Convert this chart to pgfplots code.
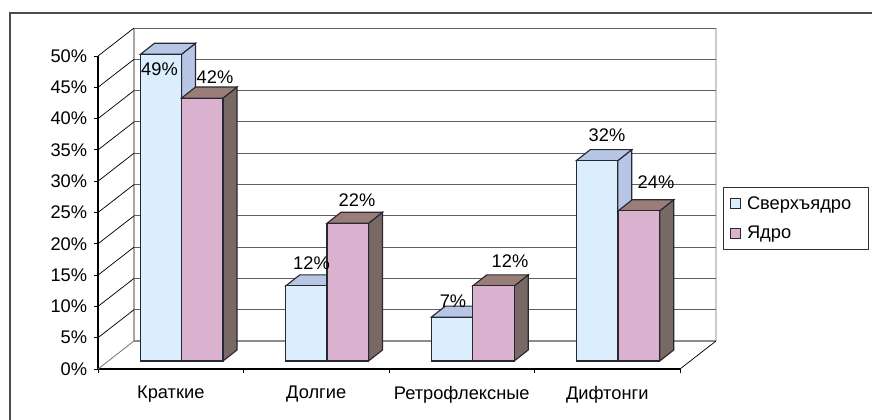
\documentclass[border=0pt]{standalone}
\usepackage{pgfplots}
\pgfplotsset{compat=1.18}
\usepackage{fontspec}
\setmainfont{Liberation Sans}
\definecolor{bluefront}{RGB}{219,238,253}
\definecolor{blueface}{RGB}{182,198,228}
\definecolor{pinkfront}{RGB}{218,178,208}
\definecolor{pinktop}{RGB}{155,125,120}
\definecolor{pinkside}{RGB}{120,105,100}
\definecolor{edge}{RGB}{40,40,50}
\definecolor{wall}{RGB}{95,95,95}
\newcommand{\lblfont}{\fontsize{13.7}{16}\selectfont}
\newcommand{\diag}[2]{\addplot[black,line width=0.55pt,forget plot] coordinates {(98,#1)(134,#2)};}
\newcommand{\back}[1]{\addplot[wall,line width=0.75pt,forget plot] coordinates {(134,#1)(716,#1)};}
\newcommand{\face}[9]{\addplot[draw=edge,line width=0.85pt,fill=#9,forget plot] coordinates {(#1,#2)(#3,#4)(#5,#6)(#7,#8)} -- cycle;}
\begin{document}
\begin{tikzpicture}[x=1pt,y=1pt]
\path[use as bounding box] (0,0) rectangle (654,314.25);
\draw[black!70,line width=1.1pt] (7.5,-2) -- (7.5,304.5) -- (656,304.5);
\begin{axis}[
  at={(73.5pt,37.5pt)},anchor=south west,
  scale only axis,width=436.5pt,height=234.75pt,
  xmin=98,xmax=680,ymin=0,ymax=50,clip=false,
  axis lines=left,axis line style={-,black,line width=0.8pt},
  tick align=outside,tick style={black,line width=0.7pt},
  major tick length=3pt,minor tick length=3pt,
  ytick={0,5,...,50},
  yticklabels={0\%,5\%,10\%,15\%,20\%,25\%,30\%,35\%,40\%,45\%,50\%},
  xtick={170.75,316.25,461.75,607.25},
  xticklabels={Краткие,Долгие,Ретрофлексные,Дифтонги},
  minor xtick={98,243.5,389,534.5,680},
  major x tick style={draw=none},
  tick label style={font=\lblfont},
  yticklabel style={inner sep=0pt,xshift=-5pt},
  xticklabel style={inner sep=0pt,yshift=-9.7pt},
]
% walls
\addplot[black!35,line width=1pt,forget plot] coordinates {(134,4.47)(134,54.47)};
\addplot[black!20,line width=1.2pt,forget plot] coordinates {(716,4.47)(716,54.47)};
\addplot[black!45,line width=1pt,forget plot] coordinates {(134,4.47)(716,4.47)};
\addplot[black!55,line width=0.6pt,forget plot] coordinates {(98,0)(134,4.47)};
\addplot[black,line width=0.55pt,forget plot] coordinates {(680,0)(716,4.47)};
\back{9.47}\back{14.47}\back{19.47}\back{24.47}\back{29.47}
\back{34.47}\back{39.47}\back{44.47}\back{49.47}\back{54.47}
\diag{5}{9.47}\diag{10}{14.47}\diag{15}{19.47}\diag{20}{24.47}\diag{25}{29.47}
\diag{30}{34.47}\diag{35}{39.47}\diag{40}{44.47}\diag{45}{49.47}\diag{50}{54.47}
\end{axis}
\begin{axis}[
  at={(73.5pt,43.5pt)},anchor=south west,
  scale only axis,width=436.5pt,height=234.75pt,
  xmin=98,xmax=680,ymin=0,ymax=50,clip=false,
  axis lines=none,
  legend style={at={(rel axis cs:1.0739,0.556)},anchor=north west,draw=black!80,
    line width=0.6pt,font=\lblfont,
    inner xsep=5pt,inner ysep=4.8pt,row sep=7.2pt,
    cells={anchor=west},
    legend cell align=left},
  legend image code/.code={\draw[#1,line width=0.6pt] (0pt,-3.75pt) rectangle (7.5pt,3.75pt);\path (10pt,0pt);},
]
% Сверхъядро: side and top faces
\face{181.5}{0}{195.5}{1.76}{195.5}{50.76}{181.5}{49}{blueface}
\face{140.5}{49}{154.5}{50.76}{195.5}{50.76}{181.5}{49}{blueface}
\face{327.25}{0}{341.25}{1.76}{341.25}{13.76}{327.25}{12}{blueface}
\face{285.75}{12}{299.75}{13.76}{341.25}{13.76}{327.25}{12}{blueface}
\face{472.75}{0}{486.75}{1.76}{486.75}{8.76}{472.75}{7}{blueface}
\face{431.25}{7}{445.25}{8.76}{486.75}{8.76}{472.75}{7}{blueface}
\face{617.75}{0}{631.75}{1.76}{631.75}{33.76}{617.75}{32}{blueface}
\face{576.25}{32}{590.25}{33.76}{631.75}{33.76}{617.75}{32}{blueface}
\addplot[ybar,bar shift=0pt,bar width=41.5,draw=edge,line width=0.85pt,fill=bluefront]
  coordinates {(161,49)(306.5,12)(452,7)(597,32)};
\addlegendentry{Сверхъядро\rule{6pt}{0pt}}
% Ядро: side and top faces
\face{223}{0}{237}{1.76}{237}{43.76}{223}{42}{pinkside}
\face{181.5}{42}{195.5}{43.76}{237}{43.76}{223}{42}{pinktop}
\face{368.5}{0}{382.5}{1.76}{382.5}{23.76}{368.5}{22}{pinkside}
\face{327}{22}{341}{23.76}{382.5}{23.76}{368.5}{22}{pinktop}
\face{514.25}{0}{528.25}{1.76}{528.25}{13.76}{514.25}{12}{pinkside}
\face{472.75}{12}{486.75}{13.76}{528.25}{13.76}{514.25}{12}{pinktop}
\face{659.75}{0}{673.75}{1.76}{673.75}{25.76}{659.75}{24}{pinkside}
\face{618.25}{24}{632.25}{25.76}{673.75}{25.76}{659.75}{24}{pinktop}
\addplot[ybar,bar shift=0pt,bar width=41.5,draw=edge,line width=0.85pt,fill=pinkfront]
  coordinates {(202.25,42)(347.75,22)(493.5,12)(639,24)};
\addlegendentry{Ядро}
% data labels
\begin{scope}[every node/.style={font=\lblfont,inner sep=0pt}]
\node at (axis cs:159.5,46.6) {49\%};
\node at (axis cs:215,45.4) {42\%};
\node at (axis cs:311.5,15.65) {12\%};
\node at (axis cs:357,25.7) {22\%};
\node at (axis cs:453,9.63) {7\%};
\node at (axis cs:510,16) {12\%};
\node at (axis cs:607,36.1) {32\%};
\node at (axis cs:656,28.6) {24\%};
\end{scope}
\end{axis}
\end{tikzpicture}
\end{document}
